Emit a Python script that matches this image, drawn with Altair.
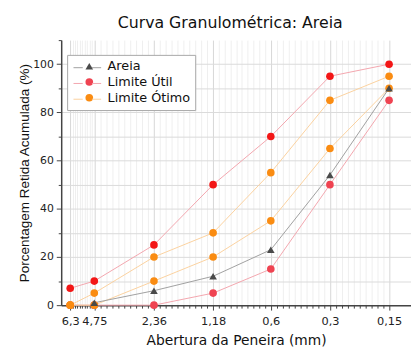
import altair as alt
import pandas as pd

# ---- data ----
aberturas = [6.3, 4.75, 2.36, 1.18, 0.6, 0.3, 0.15]
areia = [None, 1, 6, 12, 23, 54, 90]
util_inferior = [0, 0, 0, 5, 15, 50, 85]
util_superior = [7, 10, 25, 50, 70, 95, 100]
otimo_inferior = [0, 0, 10, 20, 35, 65, 90]
otimo_superior = [0, 5, 20, 30, 55, 85, 95]

series = ["Areia", "Limite Útil", "Limite Ótimo"]
line_colors = ["#a0a0a0", "#f3a6ae", "#fbd19e"]
point_colors = ["#4a4a4a", "#ef4351", "#fa8c12"]
upper_util_color = "#f31616"

y_ticks = [0, 10, 20, 30, 40, 50, 60, 70, 80, 90, 100, 110]

curves = [
    ("Limite Útil", "util_inf", util_inferior),
    ("Limite Útil", "util_sup", util_superior),
    ("Limite Ótimo", "otimo_inf", otimo_inferior),
    ("Limite Ótimo", "otimo_sup", otimo_superior),
    ("Areia", "areia", areia),
]
rows = []
for serie, curva, vals in curves:
    for a, v in zip(aberturas, vals):
        if v is None:
            continue
        rows.append({"abertura": a, "valor": v, "serie": serie,
                     "serie_l": serie, "curva": curva})
df = pd.DataFrame(rows)
df_pts = df[df["curva"] != "util_sup"]
df_sup = df[df["curva"] == "util_sup"]

# minor tick positions between the sieve openings (axis decoration)
minor = []
for a, b in zip(aberturas[:-1], aberturas[1:]):
    for j in range(1, 10):
        minor.append(round(b * (a / b) ** (j / 10), 5))
x_values = aberturas + minor
major_str = "[" + ",".join(str(v) for v in aberturas) + "]"
is_major = f"indexof({major_str}, datum.value) >= 0"

FONT = "DejaVu Sans"
YFONT = "Liberation Sans"

x_scale = alt.Scale(type="log", domain=[0.116, 7.0], reverse=True, nice=False)
y_scale = alt.Scale(domain=[0, 110], nice=False, zero=True)

x_axis = alt.Axis(
    title="Abertura da Peneira (mm)",
    values=x_values,
    labelExpr=f"{is_major} ? replace(toString(datum.value), '.', ',') : ''",
    labelOverlap=False,
    labelFlush=False,
    labelFont=FONT, labelFontSize=11.5, labelColor="#222", labelPadding=6,
    titleFont=FONT, titleFontSize=14, titleFontWeight="normal", titleColor="#111",
    titlePadding=6,
    tickColor="#444",
    tickSize={"condition": {"test": is_major, "value": 5}, "value": 3},
    gridColor={"condition": {"test": is_major, "value": "#d6d6d6"}, "value": "#efefef"},
    gridWidth=1,
    domainColor="#444", domainWidth=1.5,
)
y_axis = alt.Axis(
    title="Porcentagem Retida Acumulada (%)",
    values=y_ticks,
    labelExpr="datum.value % 20 == 0 && datum.value <= 100 ? datum.label : ''",
    labelFont=FONT, labelFontSize=11, labelColor="#222", labelPadding=3,
    titleFont=YFONT, titleFontSize=13.7, titleFontWeight="normal", titleColor="#111",
    titlePadding=1,
    tickColor="#444",
    tickSize={"condition": {"test": "datum.value % 20 == 0", "value": 5}, "value": 3},
    gridColor="#dadada",
    gridOpacity={"condition": {"test": "datum.value >= 110", "value": 0}, "value": 1},
    domainColor="#444", domainWidth=1.5,
)

x_enc = alt.X("abertura:Q", scale=x_scale, axis=x_axis)
y_enc = alt.Y("valor:Q", scale=y_scale, axis=y_axis)

# legend lines (drawn over the boxed symbol legend, with a gap for the symbol)
lines = alt.Chart(df).mark_line(strokeWidth=1).encode(
    x=x_enc,
    y=y_enc,
    detail="curva:N",
    stroke=alt.Stroke(
        "serie_l:N", sort=series,
        scale=alt.Scale(range=line_colors),
        legend=alt.Legend(title=None, symbolType="M-1.87,0H-0.62M0.62,0H1.87",
                          symbolSize=225, symbolOffset=7.5, labelExpr="''",
                          zindex=1, symbolStrokeWidth=1),
    ),
)

sym_legend = alt.Legend(title=None, zindex=0, fillColor="white",
                        strokeColor="#a8a8a8")
points = alt.Chart(df_pts).mark_point(filled=True, size=60, opacity=1).encode(
    x=x_enc,
    y=y_enc,
    fill=alt.Fill("serie:N", scale=alt.Scale(domain=series, range=point_colors),
                  legend=sym_legend),
    shape=alt.Shape("serie:N",
                    scale=alt.Scale(domain=series,
                                    range=["triangle-up", "circle", "circle"]),
                    legend=sym_legend),
)

upper = alt.Chart(df_sup).mark_point(filled=True, size=60, opacity=1,
                                     shape="circle", color=upper_util_color).encode(
    x=x_enc,
    y=y_enc,
)

chart = (
    alt.layer(lines, upper, points)
    .properties(
        width=355,
        height=269,
        title=alt.Title("Curva Granulométrica: Areia", font=FONT, fontSize=16,
                        fontWeight="normal", color="#111", offset=9, dx=-6),
        autosize=alt.AutoSizeParams(type="none"),
        padding={"left": 54, "top": 30, "right": 0, "bottom": 48},
    )
    .configure_view(strokeWidth=0)
    .configure_legend(
        orient="none", legendX=6, legendY=15, padding=5,
        labelFont=FONT, labelFontSize=13, labelColor="#111",
        symbolSize=60, rowPadding=1, symbolOffset=11, labelOffset=12,
    )
)

chart.save("out.html", embed_options={"renderer": "svg", "actions": False})
